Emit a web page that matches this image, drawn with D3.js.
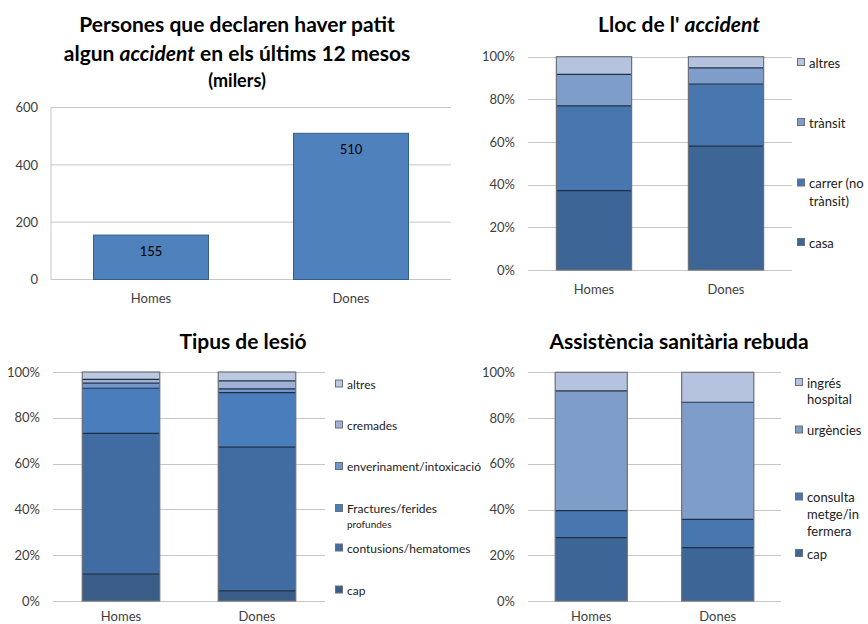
<!DOCTYPE html>
<html><head><meta charset="utf-8">
<script src="https://cdn.jsdelivr.net/npm/d3@7"></script>
<style>body{margin:0;background:#fff}svg{display:block}text{font-family:Lato,"Open Sans",sans-serif}</style>
</head><body><svg id="c" width="868" height="624"></svg>
<script>
// ---- data ----
const categories = ["Homes", "Dones"];
// chart 1: persons with accident (thousands)
const accidentTotals = [155, 510];
const ticks1 = [0, 200, 400, 600];
// chart 2: Lloc de l' accident (%), bottom to top
const llocSeries = ["casa", "carrer (no trànsit)", "trànsit", "altres"];
const llocLegend = [["casa"], ["carrer (no", "trànsit)"], ["trànsit"], ["altres"]];
const llocHomes = [37.2, 39.7, 14.8, 8.3];
const llocDones = [58.1, 29.1, 7.6, 5.2];
// chart 3: Tipus de lesió (%), bottom to top
const lesioSeries = ["cap", "contusions/hematomes", "Fractures/ferides profundes", "enverinament/intoxicació", "cremades", "altres"];
const lesioLegend = [["cap"], ["contusions/hematomes"], ["Fractures/ferides", "profundes"], ["enverinament/intoxicació"], ["cremades"], ["altres"]];
const lesioHomes = [11.7, 61.5, 19.7, 2.2, 1.7, 3.2];
const lesioDones = [4.4, 62.8, 23.8, 1.6, 3.5, 3.9];
// chart 4: Assistència sanitària rebuda (%), bottom to top
const assistSeries = ["cap", "consulta metge/infermera", "urgències", "ingrés hospital"];
const assistLegend = [["cap"], ["consulta", "metge/in", "fermera"], ["urgències"], ["ingrés", "hospital"]];
const assistHomes = [27.7, 11.8, 52.4, 8.1];
const assistDones = [23.3, 12.4, 51.2, 13.1];
const pctTicks = [0, 20, 40, 60, 80, 100];

const svg = d3.select("#c");
const GRID = "#c6c6c6", TXT = "#404040";

function title(lines, cx, ys, sizes) {
  lines.forEach((parts, i) => {
    const t = svg.append("text").attr("x", cx).attr("y", ys[i]).attr("text-anchor", "middle")
      .attr("dominant-baseline", "central").attr("font-weight", "bold").attr("font-size", sizes[i]).attr("fill", "#000");
    parts.forEach(p => t.append("tspan").text(p.t).attr("font-style", p.i ? "italic" : null));
  });
}

// ---- chart 1 ----
(function () {
  const x = d3.scaleBand().domain(categories).range([51, 451]).paddingInner(0.425).paddingOuter(0.2125);
  const y = d3.scaleLinear().domain([0, 600]).range([279.5, 107.5]);
  const g = svg.append("g");
  g.selectAll(".grid").data(ticks1).join("line").attr("x1", 51).attr("x2", 451)
    .attr("y1", d => y(d)).attr("y2", d => y(d)).attr("stroke", GRID).attr("stroke-width", 1);
  g.append("line").attr("x1", 51).attr("x2", 51).attr("y1", y(0)).attr("y2", y(600)).attr("stroke", GRID);
  const ax = g.append("g").attr("transform", "translate(51,0)").call(d3.axisLeft(y).tickValues(ticks1).tickSize(0).tickPadding(13));
  ax.select(".domain").remove();
  ax.selectAll("text").attr("font-size", 13).attr("fill", TXT).attr("font-family", "Lato");
  const bars = categories.map((c, i) => ({ c, v: accidentTotals[i] }));
  g.selectAll(".bar").data(bars).join("rect").attr("x", d => x(d.c)).attr("width", x.bandwidth())
    .attr("y", d => y(d.v)).attr("height", d => y(0) - y(d.v)).attr("fill", "#4f81bd").attr("stroke", "#385d8a").attr("stroke-width", 1);
  g.selectAll(".val").data(bars).join("text").attr("x", d => x(d.c) + x.bandwidth() / 2).attr("y", d => y(d.v) + 16)
    .attr("text-anchor", "middle").attr("dominant-baseline", "central").attr("font-size", 13).attr("fill", "#000").text(d => d.v);
  g.selectAll(".cat").data(categories).join("text").attr("x", d => x(d) + x.bandwidth() / 2).attr("y", 297.5)
    .attr("text-anchor", "middle").attr("dominant-baseline", "central").attr("font-size", 13).attr("fill", TXT).text(d => d);
  title([[{ t: "Persones que declaren haver patit" }], [{ t: "algun " }, { t: "accident", i: 1 }, { t: " en els últims 12 mesos" }], [{ t: "(milers)" }]],
    237, [23, 52, 80], [21, 21, 18]);
})();

// ---- stacked chart helper ----
function stacked(cfg) {
  const { x0, x1, y0, y1, series, legend, homes, dones, colors, tickEnd, catY, leg } = cfg;
  const x = d3.scaleBand().domain(categories).range([x0, x1]).paddingInner(0.43).paddingOuter(0.215);
  const y = d3.scaleLinear().domain([0, 100]).range([y1, y0]);
  const g = svg.append("g");
  g.selectAll(".grid").data(pctTicks).join("line").attr("x1", x0).attr("x2", x1)
    .attr("y1", d => Math.round(y(d)) + 0.5).attr("y2", d => Math.round(y(d)) + 0.5).attr("stroke", GRID);
  const ax = g.append("g").attr("transform", `translate(${tickEnd},0)`).call(d3.axisLeft(y).tickValues(pctTicks).tickSize(0).tickPadding(0).tickFormat(d => d + "%"));
  ax.select(".domain").remove();
  ax.selectAll("text").attr("font-size", 13).attr("fill", TXT).attr("font-family", "Lato");
  const rows = categories.map((c, i) => {
    const o = { cat: c };
    series.forEach((s, j) => o[s] = (i === 0 ? homes : dones)[j]);
    return o;
  });
  const st = d3.stack().keys(series)(rows);
  const col = d3.scaleOrdinal().domain(series).range(colors);
  st.forEach(layer => {
    g.selectAll(null).data(layer).join("rect").attr("x", d => x(d.data.cat)).attr("width", x.bandwidth())
      .attr("y", d => y(d[1])).attr("height", d => y(d[0]) - y(d[1])).attr("fill", col(layer.key));
  });
  // segment separators
  st.slice(0, -1).forEach(layer => {
    g.selectAll(null).data(layer).join("line").attr("x1", d => x(d.data.cat)).attr("x2", d => x(d.data.cat) + x.bandwidth())
      .attr("y1", d => y(d[1])).attr("y2", d => y(d[1])).attr("stroke", "#1f2f48").attr("stroke-width", 1.2);
  });
  // bar outline
  g.selectAll(".out").data(categories).join("rect").attr("x", d => x(d)).attr("width", x.bandwidth())
    .attr("y", y(100)).attr("height", y(0) - y(100)).attr("fill", "none").attr("stroke", "#6a6f78").attr("stroke-width", 1.2);
  g.selectAll(".cat").data(categories).join("text").attr("x", d => x(d) + x.bandwidth() / 2).attr("y", catY)
    .attr("text-anchor", "middle").attr("dominant-baseline", "central").attr("font-size", 13).attr("fill", TXT).text(d => d);
  // legend
  const fs = leg.fs || 13;
  series.forEach((s, j) => {
    const ly = leg.ys[j];
    g.append("rect").attr("x", leg.x + 0.5).attr("y", ly - 4).attr("width", 7).attr("height", 7)
      .attr("fill", col(s)).attr("stroke", "#6a6f78").attr("stroke-width", 1);
    legend[j].forEach((line, k) => {
      const small = leg.small && leg.small[j] && k > 0;
      g.append("text").attr("x", leg.x + 12).attr("y", ly + k * leg.lh[j]).attr("dominant-baseline", "central")
        .attr("font-size", small ? fs - 2 : fs).attr("fill", "#222").text(line);
    });
  });
  return g;
}

title([[{ t: "Lloc de l' " }, { t: "accident", i: 1 }]], 679, [23], [21]);
stacked({ x0: 528, x1: 792, y0: 56.7, y1: 270, series: llocSeries, legend: llocLegend, homes: llocHomes, dones: llocDones,
  colors: ["#3d6595", "#4877b0", "#7f9dc9", "#b6c3de"], tickEnd: 515, catY: 288.5,
  leg: { x: 797, ys: [242.5, 183, 122.5, 62.5], lh: [0, 18, 0, 0] } });

title([[{ t: "Tipus de lesió" }]], 243, [340], [21]);
stacked({ x0: 53, x1: 325, y0: 372, y1: 601, series: lesioSeries, legend: lesioLegend, homes: lesioHomes, dones: lesioDones,
  colors: ["#3a5d88", "#416ca1", "#4a7dbb", "#7296c8", "#9fb2d6", "#bcc7e0"], tickEnd: 40, catY: 615.5,
  leg: { x: 335, fs: 12, ys: [590, 548, 508.5, 466.5, 425, 384], lh: [0, 0, 15, 0, 0, 0], small: [0, 0, 1, 0, 0, 0] } });

title([[{ t: "Assistència sanitària rebuda" }]], 679, [340], [21]);
stacked({ x0: 528, x1: 781, y0: 372.3, y1: 601, series: assistSeries, legend: assistLegend, homes: assistHomes, dones: assistDones,
  colors: ["#3d6595", "#4877b0", "#7f9dc9", "#b6c3de"], tickEnd: 515, catY: 615.5,
  leg: { x: 795, ys: [553.5, 497, 430, 382.5], lh: [0, 17, 0, 16] } });
</script></body></html>
